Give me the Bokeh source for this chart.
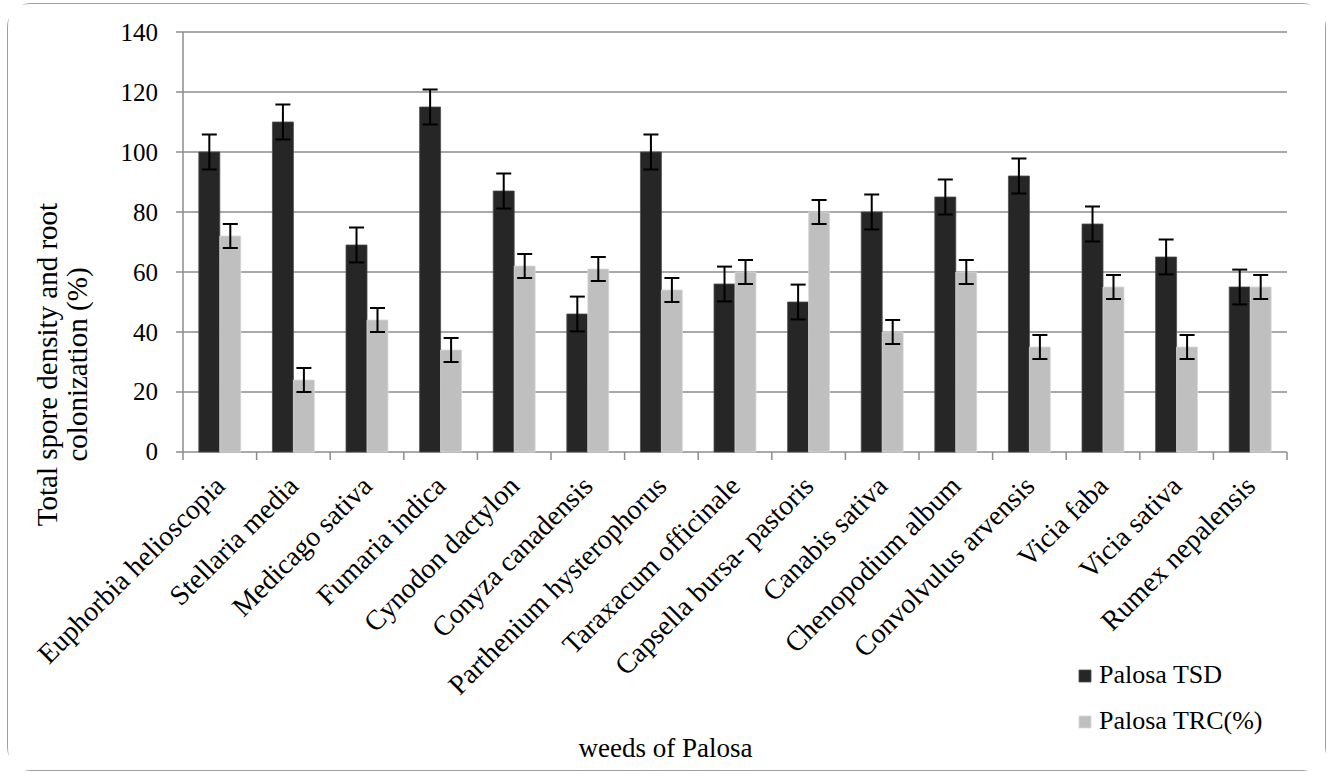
import numpy as np
from math import pi
from bokeh.plotting import figure
from bokeh.models import (ColumnDataSource, Range1d, Whisker, TeeHead, Legend, LegendItem, Label)
from bokeh.embed import file_html
from bokeh.resources import INLINE

# ---------------- data ----------------
categories = ["Euphorbia helioscopia", "Stellaria media", "Medicago sativa", "Fumaria indica",
              "Cynodon dactylon", "Conyza canadensis", "Parthenium hysterophorus",
              "Taraxacum officinale", "Capsella bursa- pastoris", "Canabis sativa",
              "Chenopodium album", "Convolvulus arvensis", "Vicia faba", "Vicia sativa",
              "Rumex nepalensis"]
tsd = [100, 110, 69, 115, 87, 46, 100, 56, 50, 80, 85, 92, 76, 65, 55]
trc = [72, 24, 44, 34, 62, 61, 54, 60, 80, 40, 60, 35, 55, 35, 55]
tsd_err = [5.8, 5.8, 5.8, 5.8, 5.8, 5.8, 5.8, 5.8, 5.8, 5.8, 5.8, 5.8, 5.8, 5.8, 5.8]
trc_err = [4, 4, 4, 4, 4, 4, 4, 4, 4, 4, 4, 4, 4, 4, 4]
y_ticks = [0, 20, 40, 60, 80, 100, 120, 140]
y_tick_labels = ["0", "20", "40", "60", "80", "100", "120", "140"]
series_names = ["Palosa TSD", "Palosa TRC(%)"]
x_title = "weeds of Palosa"
y_title = ["Total spore density and root", "colonization (%)"]

FONT = "Liberation Serif"
DARK = "#262626"
LIGHT = "#bfbfbf"
GRID = "#8c8c8c"

n = len(categories)
centers = np.arange(n) + 0.5
bounds = np.arange(n + 1)
bw = 0.285
ymin, ymax = y_ticks[0], y_ticks[-1]

src_tsd = ColumnDataSource(dict(x=centers - bw / 2, top=tsd,
                                lo=np.array(tsd) - np.array(tsd_err),
                                up=np.array(tsd) + np.array(tsd_err)))
src_trc = ColumnDataSource(dict(x=centers + bw / 2, top=trc,
                                lo=np.array(trc) - np.array(trc_err),
                                up=np.array(trc) + np.array(trc_err)))
src_cat = ColumnDataSource(dict(x=centers, y=np.full(n, ymin), text=categories))
src_bnd = ColumnDataSource(dict(x=bounds, y=np.full(n + 1, ymin)))
src_yt = ColumnDataSource(dict(x=np.zeros(len(y_ticks)), x1=np.full(len(y_ticks), n),
                               y=y_ticks, text=y_tick_labels))

# One frame covering the whole chart card; the value axis occupies its upper part
# (73.6 px per category, 3 px per unit), the space around it holds labels and legend.
p = figure(frame_width=1317, frame_height=766, output_backend="svg", toolbar_location=None,
           x_range=Range1d(-2.371, 15.523), y_range=Range1d(-106.17, 149.17),
           min_border=0, x_axis_type=None, y_axis_type=None)
p.outline_line_color = None
p.background_fill_color = "white"
p.border_fill_color = "white"
p.grid.grid_line_color = None
p.styles = {"border": "1.5px solid #a0a0a0", "border-radius": "24px",
            "margin-left": "7px", "margin-top": "3px"}

# horizontal grid lines (0 line = category axis line) and value-axis ticks
p.segment(x0="x", y0="y", x1="x1", y1="y", source=src_yt, line_color=GRID, line_width=1.5)
p.ray(x="x", y="y", length=7, length_units="screen", angle=pi, source=src_yt,
      line_color=GRID, line_width=1.5)
p.text(x="x", y="y", text="text", source=src_yt, x_offset=-25, text_align="right",
       text_baseline="middle", text_font=FONT, text_font_size="25px", text_color="black")

# bars
r1 = p.vbar(x="x", top="top", width=bw, source=src_tsd, fill_color=DARK,
            line_color="#4d4d4d", line_width=0.8)
r2 = p.vbar(x="x", top="top", width=bw, source=src_trc, fill_color=LIGHT,
            line_color="#d9d9d9", line_width=0.8)

# value axis line
p.segment(x0=[0], y0=[ymin], x1=[0], y1=[ymax], line_color=GRID, line_width=1.5)

# category ticks at boundaries and rotated labels
p.ray(x="x", y="y", length=8, length_units="screen", angle=-pi / 2, source=src_bnd,
      line_color=GRID, line_width=1.5)
p.text(x="x", y="y", text="text", source=src_cat, angle=pi / 4, y_offset=29,
       text_align="right", text_baseline="middle", text_font=FONT,
       text_font_size="28px", text_color="black")

# error bars
for s in (src_tsd, src_trc):
    w = Whisker(base="x", upper="up", lower="lo", source=s, dimension="height",
                line_color="black", line_width=2, level="overlay",
                upper_head=TeeHead(size=15, line_color="black", line_width=2),
                lower_head=TeeHead(size=15, line_color="black", line_width=2))
    p.add_layout(w)

legend = Legend(items=[LegendItem(label=series_names[0], renderers=[r1]),
                       LegendItem(label=series_names[1], renderers=[r2])],
                location=(1069, 34), orientation="vertical",
                glyph_width=15, glyph_height=15, spacing=16, padding=0, margin=0,
                label_standoff=7, label_text_font=FONT, label_text_font_size="26px",
                label_text_color="black", label_height=30,
                border_line_color=None, background_fill_alpha=0)
p.add_layout(legend, "center")

# axis titles (screen units, relative to the frame's bottom-left corner)
xlab = Label(x=657, y=23, x_units="screen", y_units="screen", text=x_title,
             text_align="center", text_baseline="middle",
             text_font=FONT, text_font_size="27px", text_color="black")
ylab1 = Label(x=38, y=406, x_units="screen", y_units="screen", text=y_title[0],
              angle=pi / 2, text_align="center", text_baseline="middle",
              text_font=FONT, text_font_size="29px", text_color="black")
ylab2 = Label(x=68, y=406, x_units="screen", y_units="screen", text=y_title[1],
              angle=pi / 2, text_align="center", text_baseline="middle",
              text_font=FONT, text_font_size="29px", text_color="black")
for lb in (xlab, ylab1, ylab2):
    p.add_layout(lb)

open("out.html", "w").write(file_html(p, INLINE))
